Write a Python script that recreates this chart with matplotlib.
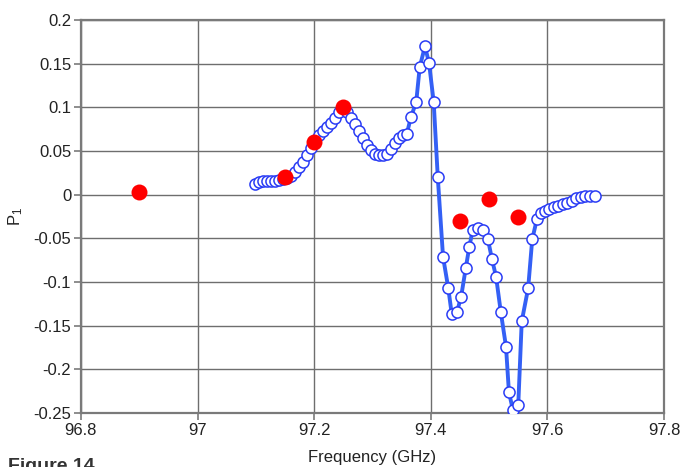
import matplotlib
matplotlib.use("Agg")
from matplotlib import pyplot as plt

plt.rcParams['font.family'] = ['Liberation Sans', 'DejaVu Sans']
plt.rcParams['mathtext.default'] = 'regular'

# Measured P1 versus frequency (open circles joined by a line)
freqMeasured = [97.098, 97.105, 97.112, 97.119, 97.126, 97.133, 97.140, 97.146, 97.153, 97.160,
                97.167, 97.174, 97.181, 97.188, 97.195, 97.201, 97.208, 97.215, 97.222, 97.229,
                97.236, 97.242, 97.249, 97.256, 97.263, 97.270, 97.277, 97.284, 97.291, 97.297,
                97.304, 97.311, 97.318, 97.325, 97.332, 97.339, 97.345, 97.352, 97.359, 97.366,
                97.375, 97.381, 97.390, 97.397, 97.405, 97.412, 97.421, 97.430, 97.436, 97.445,
                97.452, 97.460, 97.466, 97.472, 97.481, 97.490, 97.498, 97.505, 97.512, 97.520,
                97.529, 97.534, 97.541, 97.550, 97.556, 97.567, 97.574, 97.582, 97.589, 97.596,
                97.603, 97.611, 97.618, 97.627, 97.634, 97.642, 97.649, 97.658, 97.664, 97.673,
                97.682]
p1Measured = [0.012, 0.015, 0.016, 0.016, 0.016, 0.016, 0.017, 0.018, 0.019, 0.022,
              0.026, 0.032, 0.037, 0.045, 0.053, 0.063, 0.068, 0.073, 0.078, 0.082,
              0.088, 0.095, 0.100, 0.095, 0.088, 0.081, 0.073, 0.065, 0.057, 0.051,
              0.047, 0.045, 0.045, 0.047, 0.052, 0.059, 0.065, 0.068, 0.070, 0.089,
              0.106, 0.146, 0.170, 0.151, 0.106, 0.020, -0.071, -0.107, -0.137, -0.134,
              -0.117, -0.084, -0.060, -0.040, -0.038, -0.040, -0.051, -0.074, -0.094, -0.134,
              -0.174, -0.226, -0.247, -0.241, -0.145, -0.107, -0.051, -0.028, -0.021, -0.019,
              -0.016, -0.014, -0.013, -0.011, -0.009, -0.007, -0.004, -0.003, -0.001, -0.001,
              -0.001]

# Computed points (red dots)
freqComputed = [96.9, 97.15, 97.2, 97.25, 97.45, 97.5, 97.55]
p1Computed = [0.003, 0.02, 0.06, 0.1, -0.03, -0.005, -0.025]

xTicks = [96.8, 97.0, 97.2, 97.4, 97.6, 97.8]
xTickLabels = ['96.8', '97', '97.2', '97.4', '97.6', '97.8']
yTicks = [0.2, 0.15, 0.1, 0.05, 0.0, -0.05, -0.1, -0.15, -0.2, -0.25]
yTickLabels = ['0.2', '0.15', '0.1', '0.05', '0', '-0.05', '-0.1', '-0.15', '-0.2', '-0.25']

fig = plt.figure(figsize=(6.8, 4.67), dpi=100)
ax = fig.add_axes([0.119, 0.1156, 0.8575, 0.8414])

ax.plot(freqMeasured, p1Measured, color='#3460f5', linewidth=2.8, marker='o',
        markersize=8, markerfacecolor='white', markeredgecolor='#2a3cf5',
        markeredgewidth=1.1, zorder=3)
ax.plot(freqComputed, p1Computed, linestyle='none', marker='o', markersize=11.5,
        color='#ff0000', markeredgewidth=0, zorder=4)

ax.set_xlim(96.8, 97.8)
ax.set_ylim(-0.25, 0.2)
ax.set_xticks(xTicks)
ax.set_xticklabels(xTickLabels)
ax.set_yticks(yTicks)
ax.set_yticklabels(yTickLabels)

ax.grid(True, color='#6e6e6e', linewidth=1.0)
ax.set_axisbelow(True)
for side in ['left', 'bottom', 'right', 'top']:
    ax.spines[side].set_color('#7a7a7a')
    ax.spines[side].set_linewidth(1.6)
ax.tick_params(direction='out', length=5, width=1.2, color='#7a7a7a',
               labelsize=12, labelcolor='#222222', pad=2)

ax.set_xlabel('Frequency (GHz)', fontsize=12, color='#222222', labelpad=9)
ax.set_ylabel('P$_1$', fontsize=12, color='#222222', labelpad=6)

# caption sits at the very bottom edge, partly below the canvas
fig.text(0.012, 0.019, 'Figure 14', fontsize=14, fontweight='bold',
         color='#333333', va='top', ha='left')

fig.savefig('out.png', dpi=100)
